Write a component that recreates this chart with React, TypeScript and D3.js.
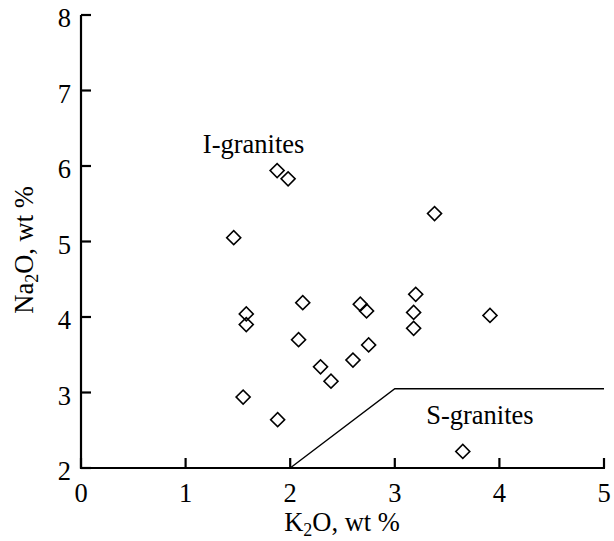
import React from "react";
import * as d3 from "d3";

const k2o = [1.46, 1.875, 1.98, 3.38, 1.58, 1.58, 2.12, 2.08, 2.67, 2.73, 3.2, 3.18, 3.18, 3.91, 2.29, 2.39, 2.6, 2.75, 1.55, 1.88, 3.65];
const na2o = [5.05, 5.94, 5.83, 5.37, 4.04, 3.9, 4.19, 3.7, 4.17, 4.08, 4.3, 4.06, 3.85, 4.02, 3.34, 3.15, 3.43, 3.63, 2.94, 2.64, 2.22];
const boundaryX = [2, 3, 5];
const boundaryY = [2, 3.05, 3.05];
const xTicks = [0, 1, 2, 3, 4, 5];
const yTicks = [2, 3, 4, 5, 6, 7, 8];
const fieldNames = ["I-granites", "S-granites"];
const fieldX = [1.165, 3.3];
const fieldY = [6.17, 2.58];

const W = 614;
const H = 541;
const FONT = "Liberation Serif";

export default function App() {
  const x = d3.scaleLinear().domain([0, 5]).range([81, 604]);
  const y = d3.scaleLinear().domain([2, 8]).range([468, 15]);
  const line = d3.line<number>().x((_, i) => x(boundaryX[i])).y((_, i) => y(boundaryY[i]));
  const diamond = d3.symbol(d3.symbolSquare).size(98)();
  const fs = 26.5;
  const tp = { fontSize: fs, fontFamily: FONT, fill: "#000" };
  return (
    <div style={{ position: "absolute", left: 0, top: 0 }}>
      <svg width={W} height={H} style={{ display: "block", background: "#fff" }}>
        <path d={line(boundaryX) || ""} fill="none" stroke="#000" strokeWidth={1.4} />
        {k2o.map((v, i) => (
          <path
            key={i}
            d={diamond}
            transform={`translate(${x(v)},${y(na2o[i])}) rotate(45)`}
            fill="none"
            stroke="#000"
            strokeWidth={1.6}
          />
        ))}
        <line x1={x(0)} x2={x(5) + 1} y1={y(2)} y2={y(2)} stroke="#000" strokeWidth={2.2} />
        <line x1={x(0)} x2={x(0)} y1={y(2) + 1} y2={y(8)} stroke="#000" strokeWidth={2.2} />
        {xTicks.map((t) => (
          <g key={"x" + t}>
            <line x1={x(t)} x2={x(t)} y1={y(2)} y2={y(2) - 10} stroke="#000" strokeWidth={2.2} />
            <text x={x(t)} y={y(2) + 34} textAnchor="middle" style={tp}>
              {t}
            </text>
          </g>
        ))}
        {yTicks.map((t) => (
          <g key={"y" + t}>
            <line x1={x(0)} x2={x(0) + 10} y1={y(t)} y2={y(t)} stroke="#000" strokeWidth={2.2} />
            <text x={71} y={y(t) + 12} textAnchor="end" style={tp}>
              {t}
            </text>
          </g>
        ))}
        {fieldNames.map((n, i) => (
          <text key={n} x={x(fieldX[i])} y={y(fieldY[i])} style={tp}>
            {n}
          </text>
        ))}
        <text x={342} y={531} textAnchor="middle" style={tp}>
          K<tspan style={{ fontSize: 18 }} dy={5}>2</tspan>
          <tspan dy={-5}>O, wt %</tspan>
        </text>
        <text transform="translate(33,250) rotate(-90)" textAnchor="middle" style={tp}>
          Na<tspan style={{ fontSize: 18 }} dy={5}>2</tspan>
          <tspan dy={-5}>O, wt %</tspan>
        </text>
      </svg>
    </div>
  );
}
